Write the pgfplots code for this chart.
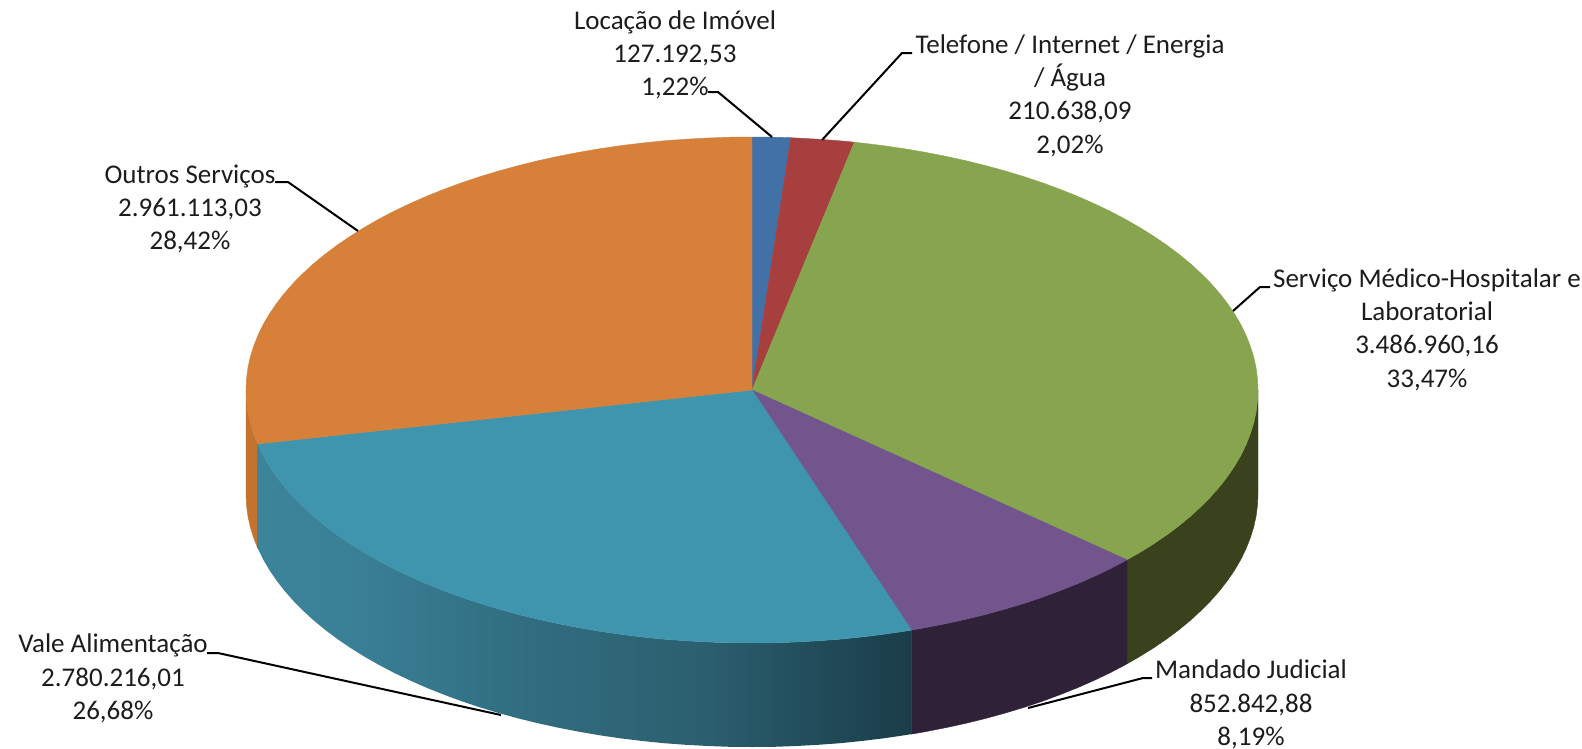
\documentclass[border=0pt]{standalone}
\usepackage{pgfplots}
\pgfplotsset{compat=1.18}
\usepackage{fontspec}
\setmainfont{Carlito}
\definecolor{cBlue}{HTML}{4271A8}
\definecolor{cRed}{HTML}{A63F3E}
\definecolor{cGreen}{HTML}{87A44E}
\definecolor{cPurple}{HTML}{71558C}
\definecolor{cTeal}{HTML}{4095AE}
\definecolor{cOrange}{HTML}{D6803A}
\definecolor{sOrange}{HTML}{C4732E}
\definecolor{sGreen}{HTML}{39421C}
\definecolor{sPurple}{HTML}{2F2138}
\definecolor{txt}{HTML}{1C1C1C}
\pgfdeclarehorizontalshading{tealside}{100bp}{
  rgb(0bp)=(0.235,0.518,0.600);
  rgb(25bp)=(0.235,0.518,0.600);
  rgb(32bp)=(0.227,0.502,0.592);
  rgb(44bp)=(0.196,0.435,0.510);
  rgb(59bp)=(0.169,0.373,0.435);
  rgb(71bp)=(0.118,0.270,0.322);
  rgb(75bp)=(0.102,0.239,0.286);
  rgb(100bp)=(0.102,0.239,0.286)}
\tikzset{lab/.style={text=txt, align=center, inner sep=0pt, font=\fontsize{27}{33.3}\selectfont}}
\begin{document}
\begin{tikzpicture}
\useasboundingbox (0,0) rectangle (1582pt,748pt);
\begin{axis}[
  scale only axis, width=1582pt, height=748pt,
  xmin=0, xmax=1582, ymin=0, ymax=748, y dir=reverse,
  hide axis, clip=false,
]
% side walls
\addplot[fill=sOrange, draw=sOrange, line width=0.4pt] coordinates {
 (257.6,443.9)(253.7,433.9)(250.3,423)(247.9,412.1)(246.5,401)(246,390)
 (246,494)(246.5,505)(247.9,516.1)(250.3,527)(253.7,537.9)(257.6,547.9)} -- cycle;
\addplot[fill=sGreen, draw=sGreen, line width=0.4pt] coordinates {
 (1258,390)(1257.5,401)(1256.1,412.1)(1253.7,423)(1250.3,433.9)(1246,444.8)(1240.8,455.5)(1234.6,466.1)(1227.5,476.5)(1219.5,486.8)(1210.6,496.9)(1200.8,506.8)(1190.2,516.5)(1178.8,525.9)(1166.5,535.1)(1153.4,544)(1139.6,552.6)(1127,559.8)
 (1127,663.8)(1139.6,656.6)(1153.4,648)(1166.5,639.1)(1178.8,629.9)(1190.2,620.5)(1200.8,610.8)(1210.6,600.9)(1219.5,590.8)(1227.5,580.5)(1234.6,570.1)(1240.8,559.5)(1246,548.8)(1250.3,537.9)(1253.7,527)(1256.1,516.1)(1257.5,505)(1258,494)} -- cycle;
\addplot[fill=sPurple, draw=sPurple, line width=0.4pt] coordinates {
 (1127,559.8)(1125.1,560.9)(1109.8,568.9)(1093.9,576.5)(1077.3,583.8)(1060,590.7)(1042.2,597.3)(1023.9,603.4)(1005,609.1)(985.7,614.4)(965.8,619.3)(945.6,623.7)(925.1,627.7)(911.4,630.1)
 (911.4,734.1)(925.1,731.7)(945.6,727.7)(965.8,723.3)(985.7,718.4)(1005,713.1)(1023.9,707.4)(1042.2,701.3)(1060,694.7)(1077.3,687.8)(1093.9,680.5)(1109.8,672.9)(1125.1,664.9)(1127,663.8)} -- cycle;
\addplot[shading=tealside, draw=none] coordinates {
 (911.4,630.1)(904.2,631.3)(883,634.4)(861.5,637)(839.9,639.2)(818,640.8)(796.1,642)(774.1,642.8)(752,643)(729.9,642.8)(707.9,642)(686,640.8)(664.1,639.2)(642.5,637)(621,634.4)(599.8,631.3)(578.9,627.7)(558.4,623.7)(538.2,619.3)(518.3,614.4)(499,609.1)(480.1,603.4)(461.8,597.3)(444,590.7)(426.7,583.8)(410.1,576.5)(394.2,568.9)(378.9,560.9)(364.4,552.6)(350.6,544)(337.5,535.1)(325.2,525.9)(313.8,516.5)(303.2,506.8)(293.4,496.9)(284.5,486.8)(276.5,476.5)(269.4,466.1)(263.2,455.5)(258,444.8)(257.6,443.9)
 (257.6,547.9)(263.2,559.5)(269.4,570.1)(276.5,580.5)(284.5,590.8)(293.4,600.9)(303.2,610.8)(313.8,620.5)(325.2,629.9)(337.5,639.1)(350.6,648)(364.4,656.6)(378.9,664.9)(394.2,672.9)(410.1,680.5)(426.7,687.8)(444,694.7)(461.8,701.3)(480.1,707.4)(499,713.1)(518.3,718.4)(538.2,723.3)(558.4,727.7)(578.9,731.7)(599.8,735.3)(621,738.4)(642.5,741)(664.1,743.2)(686,744.8)(707.9,746)(729.9,746.8)(752,747)(774.1,746.8)(796.1,746)(818,744.8)(839.9,743.2)(861.5,741)(883,738.4)(904.2,735.3)(911.4,734.1)} -- cycle;
% top faces
\addplot[fill=cBlue, draw=cBlue, line width=0.4pt] coordinates {
 (752,390)(752,137)(774.1,137.2)(790.8,137.7)} -- cycle;
\addplot[fill=cRed, draw=cRed, line width=0.4pt] coordinates {
 (752,390)(790.8,137.7)(796.1,138)(818,139.2)(839.9,140.8)(854.3,142.2)} -- cycle;
\addplot[fill=cGreen, draw=cGreen, line width=0.4pt] coordinates {
 (752,390)(854.3,142.2)(861.5,143)(883,145.6)(904.2,148.7)(925.1,152.3)(945.6,156.3)(965.8,160.7)(985.7,165.6)(1005,170.9)(1023.9,176.6)(1042.2,182.7)(1060,189.3)(1077.3,196.2)(1093.9,203.5)(1109.8,211.1)(1125.1,219.1)(1139.6,227.4)(1153.4,236)(1166.5,244.9)(1178.8,254.1)(1190.2,263.5)(1200.8,273.2)(1210.6,283.1)(1219.5,293.2)(1227.5,303.5)(1234.6,313.9)(1240.8,324.5)(1246,335.2)(1250.3,346.1)(1253.7,357)(1256.1,367.9)(1257.5,379)(1258,390)(1257.5,401)(1256.1,412.1)(1253.7,423)(1250.3,433.9)(1246,444.8)(1240.8,455.5)(1234.6,466.1)(1227.5,476.5)(1219.5,486.8)(1210.6,496.9)(1200.8,506.8)(1190.2,516.5)(1178.8,525.9)(1166.5,535.1)(1153.4,544)(1139.6,552.6)(1127,559.8)} -- cycle;
\addplot[fill=cPurple, draw=cPurple, line width=0.4pt] coordinates {
 (752,390)(1127,559.8)(1125.1,560.9)(1109.8,568.9)(1093.9,576.5)(1077.3,583.8)(1060,590.7)(1042.2,597.3)(1023.9,603.4)(1005,609.1)(985.7,614.4)(965.8,619.3)(945.6,623.7)(925.1,627.7)(911.4,630.1)} -- cycle;
\addplot[fill=cTeal, draw=cTeal, line width=0.4pt] coordinates {
 (752,390)(911.4,630.1)(904.2,631.3)(883,634.4)(861.5,637)(839.9,639.2)(818,640.8)(796.1,642)(774.1,642.8)(752,643)(729.9,642.8)(707.9,642)(686,640.8)(664.1,639.2)(642.5,637)(621,634.4)(599.8,631.3)(578.9,627.7)(558.4,623.7)(538.2,619.3)(518.3,614.4)(499,609.1)(480.1,603.4)(461.8,597.3)(444,590.7)(426.7,583.8)(410.1,576.5)(394.2,568.9)(378.9,560.9)(364.4,552.6)(350.6,544)(337.5,535.1)(325.2,525.9)(313.8,516.5)(303.2,506.8)(293.4,496.9)(284.5,486.8)(276.5,476.5)(269.4,466.1)(263.2,455.5)(258,444.8)(257.6,443.9)} -- cycle;
\addplot[fill=cOrange, draw=cOrange, line width=0.4pt] coordinates {
 (752,390)(257.6,443.9)(253.7,433.9)(250.3,423)(247.9,412.1)(246.5,401)(246,390)(246.5,379)(247.9,367.9)(250.3,357)(253.7,346.1)(258,335.2)(263.2,324.5)(269.4,313.9)(276.5,303.5)(284.5,293.2)(293.4,283.1)(303.2,273.2)(313.8,263.5)(325.2,254.1)(337.5,244.9)(350.6,236)(364.4,227.4)(378.9,219.1)(394.2,211.1)(410.1,203.5)(426.7,196.2)(444,189.3)(461.8,182.7)(480.1,176.6)(499,170.9)(518.3,165.6)(538.2,160.7)(558.4,156.3)(578.9,152.3)(599.8,148.7)(621,145.6)(642.5,143)(664.1,140.8)(686,139.2)(707.9,138)(729.9,137.2)(752,137)} -- cycle;
% leader lines
\addplot[black, line width=2pt] coordinates {(708,92)(718,92)(772,137)};
\addplot[black, line width=2pt] coordinates {(912,53)(902,53)(822,140)};
\addplot[black, line width=2pt] coordinates {(275,182)(288,182)(358,231)};
\addplot[black, line width=2pt] coordinates {(1270,287)(1260,287)(1233,311)};
\addplot[black, line width=2pt] coordinates {(1152,678)(1143,678)(1028,708)};
\addplot[black, line width=2pt] coordinates {(207,653)(218,653)(501,715)};
% labels
\node[lab] at (axis cs:675,55) {Locação de Imóvel\\127.192,53\\1,22\%};
\node[lab] at (axis cs:1070,95.5) {Telefone / Internet / Energia\\/ Água\\210.638,09\\2,02\%};
\node[lab] at (axis cs:190,209) {Outros Serviços\\2.961.113,03\\28,42\%};
\node[lab] at (axis cs:1427,329.5) {Serviço Médico-Hospitalar e\\Laboratorial\\3.486.960,16\\33,47\%};
\node[lab] at (axis cs:113,678.5) {Vale Alimentação\\2.780.216,01\\26,68\%};
\node[lab] at (axis cs:1251,704.5) {Mandado Judicial\\852.842,88\\8,19\%};
\end{axis}
\end{tikzpicture}
\end{document}
